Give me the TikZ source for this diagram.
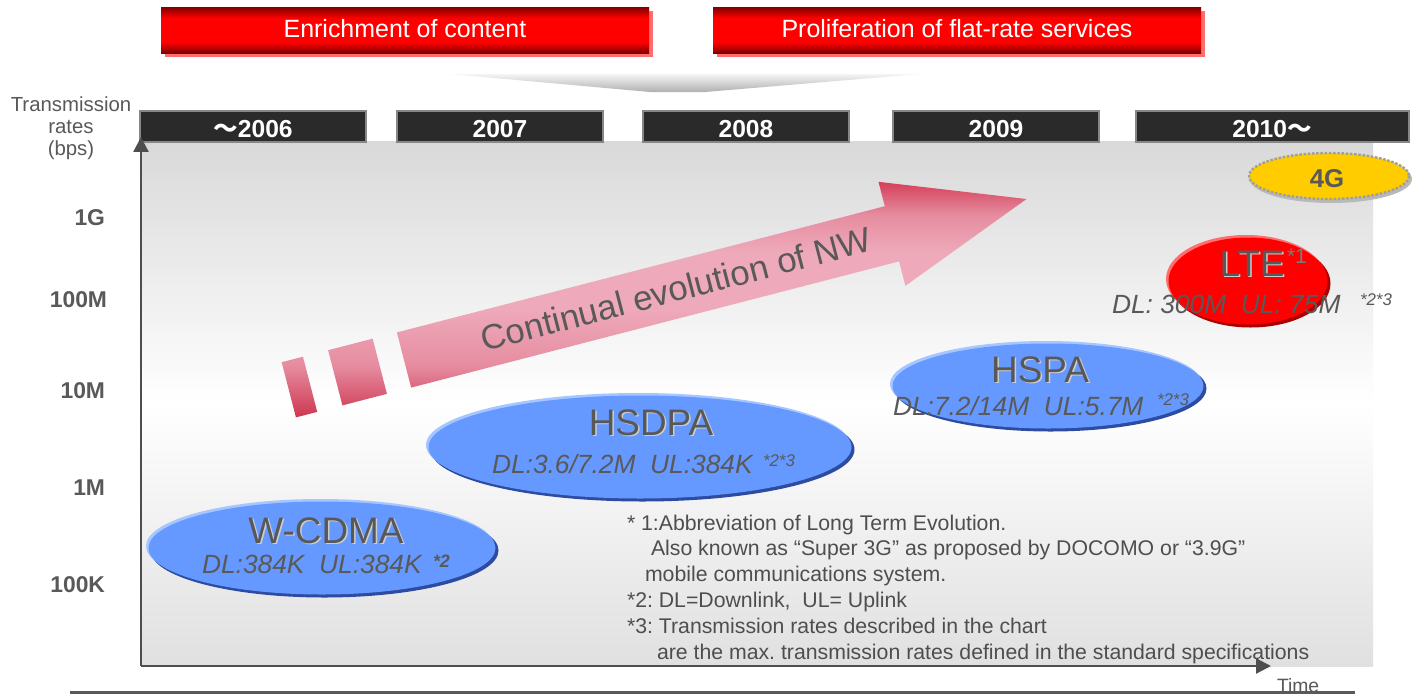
\documentclass[tikz,border=0pt]{standalone}
\usepackage{fontspec}
\setmainfont{Liberation Sans}
\newfontfamily\cjkfont{Noto Sans CJK JP}
\usetikzlibrary{arrows.meta,calc}
\frenchspacing

\definecolor{txtgrey}{RGB}{89,89,89}
\definecolor{notegrey}{RGB}{78,78,78}
\definecolor{labelgrey}{RGB}{88,88,88}
\definecolor{labelshadow}{RGB}{205,205,205}
\definecolor{bannerdark}{RGB}{128,0,0}
\definecolor{bannerred}{RGB}{255,0,0}
\definecolor{bannershadow}{RGB}{255,110,110}
\definecolor{yearbar}{RGB}{42,42,42}
\definecolor{yearedge}{RGB}{135,135,135}
\definecolor{bgtop}{RGB}{217,217,217}
\definecolor{bgbottom}{RGB}{224,224,224}
\definecolor{axisgrey}{RGB}{78,78,78}
\definecolor{blueell}{RGB}{102,153,255}
\definecolor{bluehi}{RGB}{165,198,255}
\definecolor{bluelo}{RGB}{45,75,160}
\definecolor{ltered}{RGB}{255,0,0}
\definecolor{ltehi}{RGB}{255,110,110}
\definecolor{ltelo}{RGB}{170,0,0}
\definecolor{gold}{RGB}{255,204,0}
\definecolor{arrowdark}{RGB}{212,64,88}
\definecolor{arrowmid}{RGB}{230,140,160}
\definecolor{arrowlight}{RGB}{238,170,186}
\definecolor{arrowbottom}{RGB}{205,55,80}

% red banner: dark rim top and bottom, bright band in the middle
\pgfdeclareverticalshading{bannershade}{100bp}{%
  color(0bp)=(bannerdark); color(25bp)=(bannerdark); color(37bp)=(bannerred);
  color(63bp)=(bannerred); color(75bp)=(bannerdark); color(100bp)=(bannerdark)}
% pink arrow: darker at the head's top and the blocks' foot, light in between
\pgfdeclareverticalshading{arrowshade}{100bp}{%
  color(0bp)=(arrowbottom); color(25bp)=(arrowbottom); color(36bp)=(arrowmid);
  color(48bp)=(arrowlight); color(60bp)=(arrowlight); color(68bp)=(arrowmid);
  color(75bp)=(arrowdark); color(100bp)=(arrowdark)}

% filled disc with a light rim top-left and a dark rim bottom-right
\newcommand{\rimdisc}[7]{%
  \fill[#7] ($(#1,#2)+(2.5,2.5)$) ellipse [x radius=#3, y radius=#4];
  \fill[#6] ($(#1,#2)+(-2,-2)$) ellipse [x radius=#3, y radius=#4];
  \fill[#5] (#1,#2) ellipse [x radius=#3-0.5, y radius=#4-0.5];}

\begin{document}
\begin{tikzpicture}[x=0.02cm,y=-0.02cm,
  every node/.style={inner sep=0pt, outer sep=0pt},
  bannertext/.style={text=white, font=\fontsize{14.2}{16}\selectfont},
  yeartext/.style={text=white, font=\fontsize{14}{16}\selectfont\bfseries},
  ratelabel/.style={text=txtgrey, font=\fontsize{13}{15}\selectfont\bfseries, anchor=base east},
  biglabel/.style={text=labelgrey, font=\fontsize{21}{24}\selectfont, anchor=base},
  bigshadow/.style={text=labelshadow, font=\fontsize{21}{24}\selectfont, anchor=base},
  rateline/.style={text=txtgrey, font=\fontsize{15}{17}\selectfont\itshape, anchor=base west},
  footmark/.style={text=txtgrey, font=\fontsize{9.6}{11}\selectfont\itshape, anchor=base west},
  note/.style={text=notegrey, font=\fontsize{12.1}{14.7}\selectfont, anchor=base west},
]
\useasboundingbox (0,0) rectangle (1414,694);
\fill[white] (0,0) rectangle (1414,694);

% ---- banners ----
\fill[bannershadow] (165,11) rectangle (653,57);
\shade[shading=bannershade] (161,7) rectangle (649,53);
\node[bannertext] (ban1) at (405,29) {Enrichment of content};
\fill[bannershadow] (717,11) rectangle (1205,57);
\shade[shading=bannershade] (713,7) rectangle (1201,53);
\node[bannertext] (ban2) at (957,29) {Proliferation of flat-rate services};

% ---- grey wedge under the banners ----
\shade[top color=gray!8, bottom color=gray!62] (450,74) -- (920,74) -- (705,92) -- (650,92) -- cycle;

% ---- chart background ----
\shade[top color=bgtop, bottom color=bgbottom, middle color=white] (141,141) rectangle (1373,666);

% ---- year bars ----
\begin{scope}[yearedge, line width=0.8pt]
\filldraw[fill=yearbar] (140,111) rectangle (366,142);
\filldraw[fill=yearbar] (397,111) rectangle (603,142);
\filldraw[fill=yearbar] (643,111) rectangle (849,142);
\filldraw[fill=yearbar] (893,111) rectangle (1099,142);
\filldraw[fill=yearbar] (1136,111) rectangle (1409,142);
\end{scope}
\node[yeartext] (y06) at (253,129) {{\cjkfont ～}2006};
\node[yeartext] (y07) at (500,129) {2007};
\node[yeartext] (y08) at (746,129) {2008};
\node[yeartext] (y09) at (996,129) {2009};
\node[yeartext] (y10) at (1272,129) {2010{\cjkfont ～}};

% ---- axes ----
\coordinate (origin) at (141,666);
\coordinate (ytop) at (141,137);
\coordinate (xend) at (1271,666);
\draw[axisgrey, line width=1.3pt, -{Triangle[width=8.5pt,length=8.5pt]}] (origin) -- (ytop);
\draw[axisgrey, line width=1.3pt, -{Triangle[width=8.5pt,length=8.5pt]}] (origin) -- (xend);

\node[text=txtgrey, align=center, font=\fontsize{11.6}{12.5}\selectfont] (ytitle) at (71,128)
  {Transmission\\rates\\(bps)};
\node[ratelabel] (r1g) at (105,225) {1G};
\node[ratelabel] (r100m) at (107,307) {100M};
\node[ratelabel] (r10m) at (105,398) {10M};
\node[ratelabel] (r1m) at (105,495) {1M};
\node[ratelabel] (r100k) at (105,592) {100K};

% ---- evolution arrow ----
\begin{scope}[shift={(404,360)}, rotate=14.5]
\shade[shading=arrowshade]
  (-119,-28.5) -- (-97,-28.5) -- (-97,28.5) -- (-119,28.5) -- cycle
  (-71,-28.5) -- (-25,-28.5) -- (-25,28.5) -- (-71,28.5) -- cycle
  (0,-28.5) -- (504,-28.5) -- (504,-53.7) -- (643,0) -- (504,53.7) -- (504,28.5) -- (0,28.5) -- cycle;
\end{scope}
\node[rotate=14.5, text=txtgrey, font=\fontsize{19.8}{22}\selectfont] (nw) at (676,289)
  {Continual evolution of NW};

% ---- technology discs ----
\rimdisc{322}{548}{174}{47}{blueell}{bluehi}{bluelo}
\rimdisc{640}{447}{212}{52}{blueell}{bluehi}{bluelo}
\rimdisc{1048}{386}{156}{43}{blueell}{bluehi}{bluelo}
\rimdisc{1248}{281}{80}{44}{ltered}{ltehi}{ltelo}

% 4G
\fill[gray!55] (1331,179) ellipse [x radius=81, y radius=24];
\filldraw[fill=gold, draw=gray!75, densely dotted, line width=1.4pt] (1329,176) ellipse [x radius=80, y radius=23];
\node[text=txtgrey, font=\fontsize{14.7}{16}\selectfont\bfseries, anchor=base] (g4) at (1327,187) {4G};

% W-CDMA
\node[bigshadow] (wcdmas) at (327.5,544.5) {W-CDMA};
\node[biglabel] (wcdma) at (326,543) {W-CDMA};
\node[rateline] (wcdmar) at (202,573) {DL:384K~ UL:384K};
\node[text=txtgrey, font=\fontsize{10.2}{12}\selectfont\bfseries\itshape, anchor=base west] (wcdmaf) at (433,567) {*2};

% HSDPA
\node[bigshadow] (hsdpas) at (652.5,436.5) {HSDPA};
\node[biglabel] (hsdpa) at (651,435) {HSDPA};
\node[rateline] (hsdpar) at (492,473) {DL:3.6/7.2M~ UL:384K};
\node[footmark] (hsdpaf) at (763,466) {*2*3};

% HSPA
\node[bigshadow] (hspas) at (1041.5,383.5) {HSPA};
\node[biglabel] (hspa) at (1040,382) {HSPA};
\node[rateline] (hspar) at (893,415) {DL:7.2/14M~ UL:5.7M};
\node[footmark] (hspaf) at (1157,405) {*2*3};

% LTE
\node[bigshadow] (ltes) at (1253.5,277.5) {LTE};
\node[biglabel] (lte) at (1252,276) {LTE};
\node[text=txtgrey!80, font=\fontsize{12}{14}\selectfont, anchor=base west] (ltef) at (1287,263) {*1};
\node[rateline] (lter) at (1112,313) {DL: 300M~ UL: 75M};
\node[footmark] (lterf) at (1360,305) {*2*3};

% ---- notes ----
\node[note] (n1) at (627,530) {* 1:Abbreviation of Long Term Evolution.};
\node[note] (n2) at (651,555) {Also known as “Super 3G” as proposed by DOCOMO or “3.9G”};
\node[note] (n3) at (645,581) {mobile communications system.};
\node[note] (n4) at (627,607) {*2: DL=Downlink,~ UL= Uplink};
\node[note] (n5) at (627,633) {*3: Transmission rates described in the chart};
\node[note] (n6) at (657,659) {are the max. transmission rates defined in the standard specifications};

% ---- time label and rule ----
\node[text=txtgrey, font=\fontsize{11}{13}\selectfont, anchor=base west] (time) at (1277,692) {Time};
\coordinate (ruleL) at (70,692);
\coordinate (ruleR) at (1355,692);
\draw[gray!70!black, line width=1.7pt] (ruleL) -- (ruleR);
\end{tikzpicture}
\end{document}
